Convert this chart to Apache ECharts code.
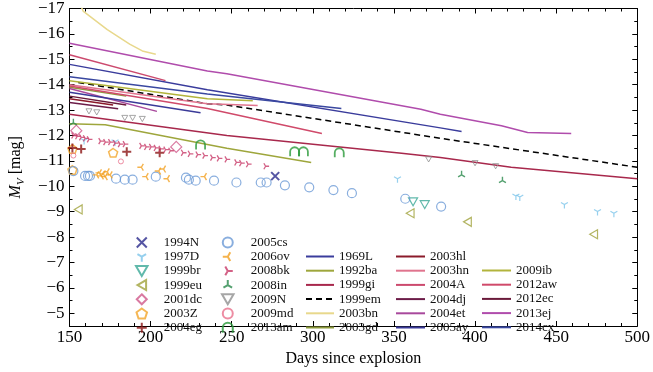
<!DOCTYPE html>
<html><head><meta charset="utf-8">
<script src="https://cdn.jsdelivr.net/npm/echarts@6/dist/echarts.min.js"></script>
<style>html,body{margin:0;padding:0;background:#fff}#c{width:653px;height:372px}</style>
</head><body><div id="c"></div>
<script>
// ---------- Data (days since explosion, M_V) ----------
const xTicks = [150, 200, 250, 300, 350, 400, 450, 500];
const yTicks = [-17, -16, -15, -14, -13, -12, -11, -10, -9, -8, -7, -6, -5];

// photometric points
const pts1994N = [[276.8, -10.4]];
const pts1997D = [[159.0, -11.8], [178.1, -11.75], [352.2, -10.3], [425.2, -9.62], [427.6, -9.58], [455.1, -9.28], [475.5, -9.01], [485.6, -8.94]];
const pts1999br = [[361.8, -9.39], [369.0, -9.28]];
const pts1999eu = [[155.4, -9.09], [360.0, -8.94], [395.3, -8.6], [473.1, -8.11]];
const pts2001dc = [[154.2, -12.19], [215.8, -11.55]];
const pts2003Z = [[151.8, -11.47], [176.9, -11.32], [151.8, -10.64]];
const pts2004eg = [[151.8, -11.51], [157.2, -11.47], [185.3, -11.36], [205.6, -11.32]];
const pts2005cs = [[152.4, -10.6], [159.6, -10.41], [161.4, -10.41], [162.6, -10.41], [178.7, -10.3], [184.1, -10.26], [188.9, -10.26], [203.2, -10.38], [221.8, -10.34], [223.6, -10.26], [227.8, -10.22], [239.1, -10.22], [252.9, -10.15], [267.9, -10.15], [271.5, -10.15], [282.8, -10.04], [297.8, -9.96], [312.7, -9.85], [324.1, -9.73], [357.0, -9.51], [379.1, -9.2]];
const pts2006ov = [[166.8, -10.45], [168.5, -10.53], [169.7, -10.41], [170.9, -10.49], [172.1, -10.38], [173.3, -10.57], [175.1, -10.45], [194.3, -10.75], [197.3, -10.38], [205.0, -10.6], [208.0, -10.68], [210.4, -10.3], [233.2, -10.38]];
const pts2008bk = [[152.4, -12.0], [154.8, -11.97], [157.2, -11.93], [159.6, -11.89], [162.0, -11.85], [169.1, -11.78], [172.1, -11.74], [175.1, -11.74], [178.1, -11.7], [181.1, -11.66], [184.1, -11.66], [194.3, -11.59], [197.3, -11.55], [200.3, -11.55], [203.2, -11.51], [206.2, -11.47], [209.2, -11.44], [212.2, -11.4], [220.0, -11.32], [224.2, -11.28], [229.0, -11.25], [233.2, -11.21], [238.0, -11.13], [242.1, -11.1], [246.9, -11.06], [252.9, -10.94], [255.9, -10.91], [260.1, -10.87], [270.9, -10.79]];
const pts2008in = [[152.4, -12.5], [391.7, -10.45], [416.9, -10.22]];
const pts2009N = [[162.0, -12.95], [166.8, -12.91], [184.1, -12.69], [188.9, -12.69], [194.9, -12.65], [371.4, -11.06], [400.0, -10.91], [412.7, -10.79]];
const pts2009md = [[152.4, -11.21], [181.7, -10.98]];
const pts2013am = [[230.8, -11.63], [288.8, -11.36], [294.2, -11.36], [316.3, -11.32]];

// light curves
const lc1969L = [[150, -14.8], [235, -13.8], [378.6, -12.3], [391.7, -12.16]];
const lc1992ba = [[150, -12.46], [172, -12.42], [247, -11.5], [299, -10.94]];
const lc1999gi = [[150, -12.84], [247, -12.0], [354.7, -11.3], [378.6, -11.13], [422.3, -10.75], [500, -10.3]];
const lc1999em = [[155.4, -14.09], [235, -13.25], [247, -13.2], [378.6, -11.89], [500, -10.75]];
const lc2003bn = [[157, -17.1], [158.4, -16.9], [173.3, -16.17], [187.1, -15.6], [194.9, -15.33], [203.2, -15.2]];
const lc2003gd = [[150, -13.9], [185, -13.55]];
const lc2003hl = [[150, -13.45], [176.9, -13.2]];
const lc2003hn = [[150, -14.0], [235, -13.25], [266, -13.18]];
const lc2004A = [[150, -15.18], [209.2, -14.16]];
const lc2004dj = [[150, -13.3], [180, -13.05]];
const lc2004et = [[150, -13.85], [203.9, -12.95]];
const lc2005ay = [[150, -13.7], [230.8, -12.9]];
const lc2009ib = [[150, -14.16], [235, -13.45], [263, -13.37]];
const lc2012aw = [[150, -13.95], [235, -13.06], [305.6, -12.08]];
const lc2012ec = [[150, -13.55], [185, -13.2]];
const lc2013ej = [[150, -15.63], [235, -14.54], [247, -14.43], [366.6, -13.03], [378.6, -12.84], [416.3, -12.38], [432.4, -12.12], [459.3, -12.08]];
const lc2014cx = [[150, -14.31], [235, -13.63], [317.6, -13.06]];

// ---------- Styling ----------
const FONT = 'Liberation Serif';
const SYM = {
  x: 'path://M0,0 L10,10 M10,0 L0,10',
  plus: 'path://M5,0 L5,10 M0,5 L10,5',
  triDown: 'path://M5,0 M5,5 L5,10 M5,5 L0.67,2.5 M5,5 L9.33,2.5 M0,0 M10,10',
  triUp: 'path://M5,0 L5,5 M5,5 L0.67,7.5 M5,5 L9.33,7.5 M0,0 M10,10',
  triLeft: 'path://M0,5 L5,5 M5,5 L7.5,0.67 M5,5 L7.5,9.33 M0,0 M10,10',
  triRight: 'path://M10,5 L5,5 M5,5 L2.5,0.67 M5,5 L2.5,9.33 M0,0 M10,10',
  tri: 'path://M0,0 L10,0 L5,8.66 Z',
  triL: 'path://M0,5 L8.66,0 L8.66,10 Z',
  diamond: 'path://M5,0 L10,5 L5,10 L0,5 Z',
  horse: 'path://M0,10 L0,5 A5,5 0 0 1 10,5 L10,10',
  pent: 'path://M5,0 L9.76,3.45 L7.94,9.05 L2.06,9.05 L0.24,3.45 Z'
};
function sc(name, data, symbol, color, size, bw) {
  return { type: 'scatter', name, data, symbol, symbolSize: size, z: 3, symbolKeepAspect: true,
    itemStyle: { color: 'rgba(0,0,0,0)', borderColor: color, borderWidth: bw || 1 } };
}
function ln(name, data, color, dashed) {
  return { type: 'line', name, data, showSymbol: false, symbol: 'none', smooth: false,
    z: 2, color, lineStyle: { color, width: 1.5, type: dashed ? [6, 4] : 'solid' } };
}
const series = [
  sc('1994N', pts1994N, SYM.x, '#2b2b8c', 8, 2),
  sc('1997D', pts1997D, SYM.triDown, '#7cc4ea', 8, 1.2),
  sc('1999br', pts1999br, SYM.tri, '#3aa896', 9, 1.2),
  sc('1999eu', pts1999eu, SYM.triL, '#a0a23c', 9, 1.2),
  sc('2001dc', pts2001dc, SYM.diamond, '#d0588a', 11, 1.2),
  sc('2003Z', pts2003Z, SYM.pent, '#f2a52a', 9, 1.5),
  sc('2004eg', pts2004eg, SYM.plus, '#8b1414', 9, 2),
  sc('2005cs', pts2005cs, 'circle', '#6c9ad6', 9, 1.2),
  sc('2006ov', pts2006ov, SYM.triLeft, '#f2a020', 8, 1.4),
  sc('2008bk', pts2008bk, SYM.triRight, '#c83a68', 7, 1.3),
  sc('2008in', pts2008in, SYM.triUp, '#2a8a4c', 8, 1.4),
  sc('2009N', pts2009N, SYM.tri, '#909090', 6, 1),
  sc('2009md', pts2009md, 'circle', '#e8708c', 5, 1),
  sc('2013am', pts2013am, SYM.horse, '#2a9a3a', 9, 1.8),
  ln('1969L', lc1969L, '#3a3c9c'),
  ln('1992ba', lc1992ba, '#9ea63c'),
  ln('1999gi', lc1999gi, '#a8284c'),
  ln('1999em', lc1999em, '#000000', true),
  ln('2003bn', lc2003bn, '#e8d88c'),
  ln('2003gd', lc2003gd, '#8c9a3c'),
  ln('2003hl', lc2003hl, '#8b1a2a'),
  ln('2003hn', lc2003hn, '#e0748e'),
  ln('2004A', lc2004A, '#cc4a6e'),
  ln('2004dj', lc2004dj, '#6c1c48'),
  ln('2004et', lc2004et, '#a8489c'),
  ln('2005ay', lc2005ay, '#3a3a98'),
  ln('2009ib', lc2009ib, '#b2b43c'),
  ln('2012aw', lc2012aw, '#d04a6a'),
  ln('2012ec', lc2012ec, '#6a1a3a'),
  ln('2013ej', lc2013ej, '#b04cac'),
  ln('2014cx', lc2014cx, '#3a48a0')
];
function legMarkers(names, left, top, padLeft) {
  return { data: names, orient: 'vertical', left, top, itemWidth: 12, itemHeight: 10, itemGap: 1.2,
    selectedMode: false, padding: 0,
    textStyle: { fontFamily: FONT, fontSize: 13, color: '#111', padding: [0, 0, 0, padLeft] } };
}
function legLines(names, left, top, w) {
  return { data: names, orient: 'vertical', left, top, itemWidth: w, itemHeight: 10, itemGap: 1.2,
    selectedMode: false, padding: 0,
    itemStyle: { color: 'rgba(0,0,0,0)', borderWidth: 0, opacity: 0 },
    lineStyle: { width: 2 },
    textStyle: { fontFamily: FONT, fontSize: 13, color: '#111' } };
}
const minus = v => (v < 0 ? '\u2212' + (-v) : String(v));
const axisCommon = {
  axisLine: { show: true, onZero: false, lineStyle: { color: '#000', width: 1 } },
  axisTick: { show: true, inside: true, length: 5, lineStyle: { color: '#000' } },
  splitLine: { show: false }
};
const option = {
  animation: false,
  backgroundColor: '#fff',
  grid: { left: 58, right: 10, top: 8, bottom: 34, containLabel: false },
  xAxis: [
    Object.assign({ type: 'value', min: 150, max: 500, interval: 50, position: 'bottom',
      name: 'Days since explosion', nameLocation: 'middle', nameGap: 25,
      nameTextStyle: { fontFamily: FONT, fontSize: 16, color: '#000' },
      axisLabel: { fontFamily: FONT, fontSize: 17, color: '#000', margin: 3,
        formatter: v => (xTicks.includes(v) ? String(v) : '') } }, axisCommon,
      { minorTick: { show: true, splitNumber: 5, length: 3, lineStyle: { color: '#000' } } }),
    Object.assign({ type: 'value', min: 150, max: 500, interval: 50, position: 'top',
      axisLabel: { show: false } }, axisCommon,
      { minorTick: { show: true, splitNumber: 5, length: 3, lineStyle: { color: '#000' } } })
  ],
  yAxis: [
    Object.assign({ type: 'value', inverse: true, min: -17, max: -4.5, interval: 1, position: 'left',
      name: '{it|M}{sub|V}{n| [mag]}', nameLocation: 'middle', nameRotate: 90, nameGap: 30,
      nameTextStyle: { fontFamily: FONT, fontSize: 16, color: '#000',
        rich: { it: { fontFamily: FONT, fontSize: 16, fontStyle: 'italic', verticalAlign: 'middle', lineHeight: 22 },
                sub: { fontFamily: FONT, fontSize: 11, fontStyle: 'italic', verticalAlign: 'bottom', lineHeight: 22 },
                n: { fontFamily: FONT, fontSize: 16, verticalAlign: 'middle', lineHeight: 22 } } },
      axisLabel: { fontFamily: FONT, fontSize: 17, color: '#000', margin: 5, showMaxLabel: false,
        formatter: v => (yTicks.includes(v) ? minus(v) : '') } }, axisCommon,
      { minorTick: { show: true, splitNumber: 2, length: 3, lineStyle: { color: '#000' } } }),
    Object.assign({ type: 'value', inverse: true, min: -17, max: -4.5, interval: 1, position: 'right',
      axisLabel: { show: false } }, axisCommon,
      { minorTick: { show: true, splitNumber: 2, length: 3, lineStyle: { color: '#000' } } })
  ],
  legend: [
    legMarkers(['1994N', '1997D', '1999br', '1999eu', '2001dc', '2003Z', '2004eg'], 135, 236, 11),
    legMarkers(['2005cs', '2006ov', '2008bk', '2008in', '2009N', '2009md', '2013am'], 221, 236, 12),
    legLines(['1969L', '1992ba', '1999gi', '1999em', '2003bn', '2003gd'], 305, 250, 28),
    legLines(['2003hl', '2003hn', '2004A', '2004dj', '2004et', '2005ay'], 395, 250, 29),
    legLines(['2009ib', '2012aw', '2012ec', '2013ej', '2014cx'], 481, 264, 29)
  ],
  series: series.map(s => Object.assign(s, { xAxisIndex: 0, yAxisIndex: 0 }))
};
const chart = echarts.init(document.getElementById('c'), null, { renderer: 'canvas' });
chart.setOption(option);
</script></body></html>
